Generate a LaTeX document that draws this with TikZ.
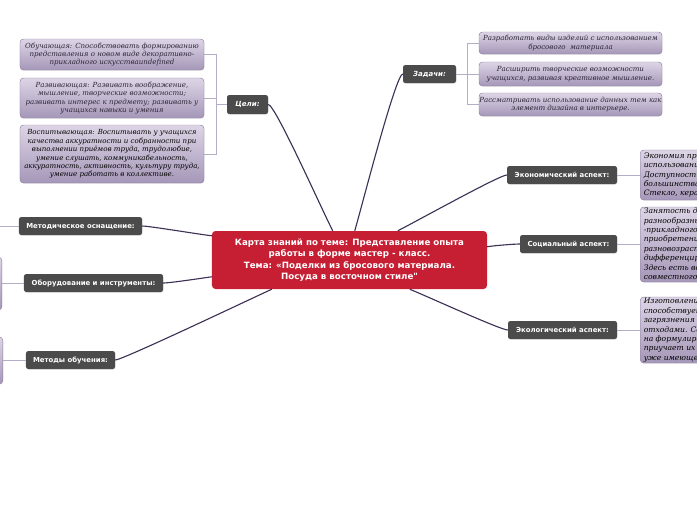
\documentclass[tikz,border=0pt]{standalone}
\usepackage{fontspec}
\setmainfont{DejaVu Serif}
\newfontfamily\mapsans{DejaVu Sans}
\usetikzlibrary{calc,shadows}

\definecolor{mainred}{HTML}{C61F33}
\definecolor{topicgray}{HTML}{4B4B4B}
\definecolor{notetop}{HTML}{DDD5E6}
\definecolor{notebot}{HTML}{A597B8}
\definecolor{noteline}{HTML}{8E80A2}
\definecolor{notetext}{HTML}{2B2535}
\definecolor{linkcol}{HTML}{3D3055}
\definecolor{brkcol}{HTML}{B5ADC5}

\tikzset{
  centre/.style={fill=mainred, rounded corners=3pt, text=white, align=center,
    font=\mapsans\bfseries\fontsize{7.4}{9.6}\selectfont,
    minimum width=8.25cm, minimum height=1.74cm, inner sep=0pt},
  topic/.style={fill=topicgray, rounded corners=2pt, text=white,
    font=\mapsans\bfseries\fontsize{5.9}{6.5}\selectfont,
    minimum height=0.54cm, inner sep=0pt,
    drop shadow={opacity=0.25, shadow xshift=0.4pt, shadow yshift=-0.6pt}},
  note/.style={draw=noteline, top color=notetop, bottom color=notebot,
    rounded corners=3pt, text=notetext, align=center, inner sep=0pt,
    font=\itshape\fontsize{6}{7.2}\selectfont,
    drop shadow={opacity=0.2, shadow xshift=0.4pt, shadow yshift=-0.6pt}},
  sidenote/.style={note, align=left, anchor=west, inner xsep=3pt,
    text=black, font=\itshape\fontsize{6.5}{8}\selectfont},
  link/.style={draw=linkcol, line width=0.95pt},
  brk/.style={draw=brkcol, line width=0.7pt},
}

\begin{document}
\begin{tikzpicture}[x=0.03cm, y=-0.03cm]
  \path[use as bounding box, fill=white] (0,0) rectangle (697,520);

  % centre
  \node[centre] (main) at (349.5,260) {Карта знаний по теме: Представление опыта\\
    работы в форме мастер - класс.\\
    Тема: «Поделки из бросового материала.\\
    Посуда в восточном стиле"};

  % main topics
  \node[topic, minimum width=1.23cm, minimum height=0.57cm, font=\mapsans\bfseries\itshape\fontsize{6}{6.5}\selectfont] (celi) at (247.5,104.5) {Цели:};
  \node[topic, minimum width=1.59cm, font=\mapsans\bfseries\itshape\fontsize{6}{6.5}\selectfont] (zad) at (429.5,74) {Задачи:};
  \node[topic, minimum width=3.3cm] (eco) at (562,175) {Экономический аспект:};
  \node[topic, minimum width=2.91cm] (soc) at (568.5,244) {Социальный аспект:};
  \node[topic, minimum width=3.27cm] (ecol) at (562.5,330) {Экологический аспект:};
  \node[topic, minimum width=3.69cm] (metod) at (80.5,226) {Методическое оснащение:};
  \node[topic, minimum width=4.17cm] (obor) at (93.5,283) {Оборудование и инструменты:};
  \node[topic, minimum width=2.67cm] (meth) at (70.5,360) {Методы обучения:};

  % goals
  \node[note, minimum width=5.52cm, minimum height=0.93cm] (g1) at (112,54.5)
    {Обучающая: Способствовать формированию\\ представления о новом виде декоративно-\\ прикладного искусстваundefined};
  \node[note, minimum width=5.52cm, minimum height=1.2cm] (g2) at (112,98)
    {Развивающая: Развивать воображение,\\ мышление, творческие возможности;\\ развивать интерес к предмету; развивать у\\ учащихся навыки и умения};
  \node[note, minimum width=5.52cm, minimum height=1.74cm, text=black] (g3) at (112,154)
    {Воспитывающая: Воспитывать у учащихся\\ качества аккуратности и собранности при\\ выполнении приёмов труда, трудолюбие,\\ умение слушать, коммуникабельность,\\ аккуратность, активность, культуру труда,\\ умение работать в коллективе.};

  % tasks
  \node[note, minimum width=5.49cm, minimum height=0.66cm] (t1) at (570.5,43)
    {Разработать виды изделий с использованием\\ бросового~~материала};
  \node[note, minimum width=5.49cm, minimum height=0.72cm] (t2) at (570.5,74)
    {Расширить творческие возможности\\ учащихся, развивая креативное мышление.};
  \node[note, minimum width=5.49cm, minimum height=0.69cm] (t3) at (570.5,104.5)
    {Рассматривать использование данных тем как\\ элемент дизайна в интерьере.};

  % aspects
  \node[sidenote, minimum height=1.5cm] (ecoT) at (640,175)
    {Экономия природных ресурсов при\\ использовании бросового материала.\\ Доступность материала: у\\ большинства есть дома.\\ Стекло, керамика, пластик.};
  \node[sidenote, minimum height=2.25cm] (socT) at (640,244.5)
    {Занятость детей, изучение\\ разнообразных видов декоративно\\ -прикладного искусства,\\ приобретение навыков,\\ разновозрастное общение,\\ дифференцированный подход.\\ Здесь есть возможность\\ совместного творчества.};
  \node[sidenote, minimum height=1.98cm] (ecolT) at (640,330)
    {Изготовление поделок\\ способствует снижению\\ загрязнения природы\\ отходами. Создание поделок\\ на формулировку знаний\\ приучает их к бережному\\ уже имеющегося.};
  \node[note, anchor=east, minimum width=1.8cm, minimum height=1.59cm] (oborT) at (2,283.5) {};
  \node[note, anchor=east, minimum width=1.8cm, minimum height=1.41cm] (methT) at (3,360.5) {};

  % links from centre
  \draw[link] ($(main.north west)+(121,0)$) .. controls +(-10,-19) and +(7,0) .. (celi.east);
  \draw[link] ($(main.north west)+(143,0)$) .. controls +(7,-24) and +(-7,0) .. (zad.west);
  \draw[link] ($(main.north west)+(186,0)$) .. controls +(16,-8) and +(-7,0) .. (eco.west);
  \draw[link] ($(main.north east)+(0,16)$) .. controls +(5,-1) and +(-6,0) .. (soc.west);
  \draw[link] ($(main.south west)+(198,0)$) .. controls +(15,6) and +(-7,0) .. (ecol.west);
  \draw[link] ($(main.north west)+(0,5)$) .. controls +(-10,-1) and +(7,0) .. (metod.east);
  \draw[link] ($(main.north west)+(0,46)$) .. controls +(-7,1) and +(7,0) .. (obor.east);
  \draw[link] ($(main.south west)+(60,0)$) .. controls +(-24,11) and +(7,0) .. (meth.east);

  % brackets
  \draw[brk] (celi.west) -- ++(-10,0) coordinate (cj);
  \draw[brk] (g1.east) -| (cj) |- (g3.east);
  \draw[brk] (g2.east) -- (g2.east -| cj);
  \draw[brk] (zad.east) -- ++(11,0) coordinate (zj);
  \draw[brk] (t1.west) -| (zj) |- (t3.west);
  \draw[brk] (t2.west) -- (t2.west -| zj);
  \draw[brk] (eco.east) -- (eco.east -| ecoT.west);
  \draw[brk] (soc.east) -- (soc.east -| socT.west);
  \draw[brk] (ecol.east) -- (ecol.east -| ecolT.west);
  \draw[brk] (metod.west) -- ++(-19,0) coordinate (mj);
  \draw[brk] (obor.west) -- (obor.west -| oborT.east);
  \draw[brk] (meth.west) -- (meth.west -| methT.east);
\end{tikzpicture}
\end{document}
